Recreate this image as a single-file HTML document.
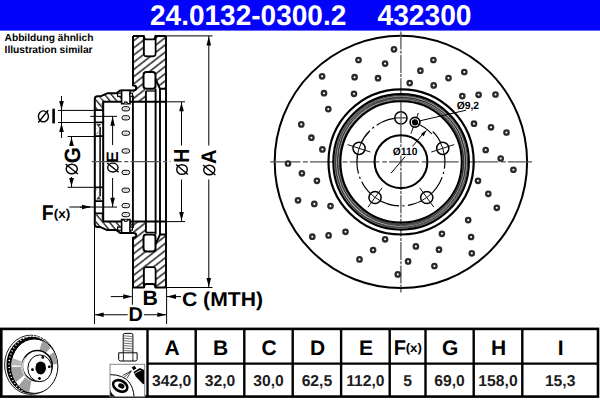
<!DOCTYPE html>
<html><head><meta charset="utf-8"><style>
html,body{margin:0;padding:0;background:#fff;}
body{width:600px;height:400px;overflow:hidden;position:relative;font-family:"Liberation Sans",sans-serif;}
svg{position:absolute;left:0;top:0;}
svg text{font-family:"Liberation Sans",sans-serif;text-rendering:geometricPrecision;}
</style></head><body>
<svg width="600" height="400" viewBox="0 0 600 400">
<defs>
<pattern id="h1" patternUnits="userSpaceOnUse" width="5.67" height="5.67" patternTransform="rotate(-38)">
<line x1="0" y1="1" x2="5.67" y2="1" stroke="#000" stroke-width="1.3"/></pattern>
<pattern id="h2" patternUnits="userSpaceOnUse" width="5.67" height="5.67" patternTransform="rotate(38)">
<line x1="0" y1="1" x2="5.67" y2="1" stroke="#000" stroke-width="1.3"/></pattern>
<pattern id="h3" patternUnits="userSpaceOnUse" width="5.1" height="5.1" patternTransform="rotate(50)">
<line x1="0" y1="1" x2="5.1" y2="1" stroke="#000" stroke-width="1.2"/></pattern>
<pattern id="h4" patternUnits="userSpaceOnUse" width="5.1" height="5.1" patternTransform="rotate(-50)">
<line x1="0" y1="1" x2="5.1" y2="1" stroke="#000" stroke-width="1.2"/></pattern>
</defs>
<rect x="0" y="0" width="600" height="30.6" fill="#0303fc"/>
<text transform="translate(150.02,24.75) scale(0.9877,1)" font-size="28.36" font-weight="bold" fill="#fff" >24.0132-0300.2</text>
<text transform="translate(377.48,24.90) scale(0.9870,1)" font-size="28.57" font-weight="bold" fill="#fff" >432300</text>
<text transform="translate(4.54,40.85) scale(0.9929,1)" font-size="10.28" font-weight="bold" fill="#000" >Abbildung ähnlich</text>
<text transform="translate(4.54,52.55) scale(0.9822,1)" font-size="10.41" font-weight="bold" fill="#000" >Illustration similar</text>
<circle cx="400.9" cy="161.9" r="126.2" fill="none" stroke="#000" stroke-width="2"/>
<line x1="400.9" y1="31.5" x2="400.9" y2="292.5" stroke="#555" stroke-width="1.3" stroke-dasharray="18,1.2,3,1.2"/>
<line x1="270.3" y1="161.9" x2="532" y2="161.9" stroke="#555" stroke-width="1.3" stroke-dasharray="30,2.6,5,2"/>
<circle cx="394" cy="49.3" r="2.2" fill="#fff" stroke="#2a2a2a" stroke-width="2.3"/>
<circle cx="358.5" cy="60" r="2.2" fill="#fff" stroke="#2a2a2a" stroke-width="2.3"/>
<circle cx="385.1" cy="63.6" r="2.2" fill="#fff" stroke="#2a2a2a" stroke-width="2.3"/>
<circle cx="322.1" cy="76.3" r="2.2" fill="#fff" stroke="#2a2a2a" stroke-width="2.3"/>
<circle cx="354.6" cy="77.2" r="2.2" fill="#fff" stroke="#2a2a2a" stroke-width="2.3"/>
<circle cx="378" cy="78.2" r="2.2" fill="#fff" stroke="#2a2a2a" stroke-width="2.3"/>
<circle cx="324" cy="93.2" r="2.2" fill="#fff" stroke="#2a2a2a" stroke-width="2.3"/>
<circle cx="354" cy="93.8" r="2.2" fill="#fff" stroke="#2a2a2a" stroke-width="2.3"/>
<circle cx="328.3" cy="109.1" r="2.2" fill="#fff" stroke="#2a2a2a" stroke-width="2.3"/>
<circle cx="301.3" cy="124.4" r="2.2" fill="#fff" stroke="#2a2a2a" stroke-width="2.3"/>
<circle cx="311.4" cy="137.7" r="2.2" fill="#fff" stroke="#2a2a2a" stroke-width="2.3"/>
<circle cx="322.4" cy="149.4" r="2.2" fill="#fff" stroke="#2a2a2a" stroke-width="2.3"/>
<circle cx="288" cy="163.5" r="2.2" fill="#fff" stroke="#2a2a2a" stroke-width="2.3"/>
<circle cx="433.4" cy="60" r="2.2" fill="#fff" stroke="#2a2a2a" stroke-width="2.3"/>
<circle cx="420.4" cy="70.7" r="2.2" fill="#fff" stroke="#2a2a2a" stroke-width="2.3"/>
<circle cx="464.3" cy="72" r="2.2" fill="#fff" stroke="#2a2a2a" stroke-width="2.3"/>
<circle cx="448.5" cy="78.1" r="2.2" fill="#fff" stroke="#2a2a2a" stroke-width="2.3"/>
<circle cx="409.7" cy="83.1" r="2.2" fill="#fff" stroke="#2a2a2a" stroke-width="2.3"/>
<circle cx="433.7" cy="85.4" r="2.2" fill="#fff" stroke="#2a2a2a" stroke-width="2.3"/>
<circle cx="462.3" cy="96.1" r="2.2" fill="#fff" stroke="#2a2a2a" stroke-width="2.3"/>
<circle cx="478.6" cy="94.8" r="2.2" fill="#fff" stroke="#2a2a2a" stroke-width="2.3"/>
<circle cx="495.5" cy="94.5" r="2.2" fill="#fff" stroke="#2a2a2a" stroke-width="2.3"/>
<circle cx="474" cy="123.7" r="2.2" fill="#fff" stroke="#2a2a2a" stroke-width="2.3"/>
<circle cx="491" cy="127.3" r="2.2" fill="#fff" stroke="#2a2a2a" stroke-width="2.3"/>
<circle cx="506.5" cy="132.5" r="2.2" fill="#fff" stroke="#2a2a2a" stroke-width="2.3"/>
<circle cx="485.7" cy="150" r="2.2" fill="#fff" stroke="#2a2a2a" stroke-width="2.3"/>
<circle cx="500.7" cy="158.5" r="2.2" fill="#fff" stroke="#2a2a2a" stroke-width="2.3"/>
<circle cx="301.9" cy="173.3" r="2.2" fill="#fff" stroke="#2a2a2a" stroke-width="2.3"/>
<circle cx="316.9" cy="180.8" r="2.2" fill="#fff" stroke="#2a2a2a" stroke-width="2.3"/>
<circle cx="298" cy="200.3" r="2.2" fill="#fff" stroke="#2a2a2a" stroke-width="2.3"/>
<circle cx="314.3" cy="203.9" r="2.2" fill="#fff" stroke="#2a2a2a" stroke-width="2.3"/>
<circle cx="330.5" cy="206.1" r="2.2" fill="#fff" stroke="#2a2a2a" stroke-width="2.3"/>
<circle cx="312.3" cy="236.7" r="2.2" fill="#fff" stroke="#2a2a2a" stroke-width="2.3"/>
<circle cx="328.6" cy="235.4" r="2.2" fill="#fff" stroke="#2a2a2a" stroke-width="2.3"/>
<circle cx="345.5" cy="231.8" r="2.2" fill="#fff" stroke="#2a2a2a" stroke-width="2.3"/>
<circle cx="385.1" cy="239.3" r="2.2" fill="#fff" stroke="#2a2a2a" stroke-width="2.3"/>
<circle cx="373.1" cy="250" r="2.2" fill="#fff" stroke="#2a2a2a" stroke-width="2.3"/>
<circle cx="359.5" cy="259.4" r="2.2" fill="#fff" stroke="#2a2a2a" stroke-width="2.3"/>
<circle cx="397.8" cy="274.4" r="2.2" fill="#fff" stroke="#2a2a2a" stroke-width="2.3"/>
<circle cx="513.4" cy="169.75" r="2.2" fill="#fff" stroke="#2a2a2a" stroke-width="2.3"/>
<circle cx="478" cy="180.8" r="2.2" fill="#fff" stroke="#2a2a2a" stroke-width="2.3"/>
<circle cx="488.3" cy="193.8" r="2.2" fill="#fff" stroke="#2a2a2a" stroke-width="2.3"/>
<circle cx="496.8" cy="207.8" r="2.2" fill="#fff" stroke="#2a2a2a" stroke-width="2.3"/>
<circle cx="468.2" cy="220.1" r="2.2" fill="#fff" stroke="#2a2a2a" stroke-width="2.3"/>
<circle cx="471.1" cy="237" r="2.2" fill="#fff" stroke="#2a2a2a" stroke-width="2.3"/>
<circle cx="471.8" cy="253.3" r="2.2" fill="#fff" stroke="#2a2a2a" stroke-width="2.3"/>
<circle cx="441.9" cy="233.8" r="2.2" fill="#fff" stroke="#2a2a2a" stroke-width="2.3"/>
<circle cx="439" cy="249.7" r="2.2" fill="#fff" stroke="#2a2a2a" stroke-width="2.3"/>
<circle cx="434.4" cy="266" r="2.2" fill="#fff" stroke="#2a2a2a" stroke-width="2.3"/>
<circle cx="415.9" cy="246.4" r="2.2" fill="#fff" stroke="#2a2a2a" stroke-width="2.3"/>
<circle cx="408.1" cy="261.4" r="2.2" fill="#fff" stroke="#2a2a2a" stroke-width="2.3"/>
<circle cx="401.1" cy="161.9" r="72.6" fill="none" stroke="#000" stroke-width="2.2"/>
<circle cx="401.1" cy="161.9" r="64.25" fill="none" stroke="#aaa" stroke-width="5.6"/>
<circle cx="401.40000000000003" cy="162.1" r="62.2" fill="none" stroke="#111" stroke-width="0.62"/>
<circle cx="400.8" cy="161.70000000000002" r="63.2" fill="none" stroke="#111" stroke-width="0.62"/>
<circle cx="401.45000000000005" cy="161.6" r="64.2" fill="none" stroke="#111" stroke-width="0.62"/>
<circle cx="400.75" cy="162.20000000000002" r="65.2" fill="none" stroke="#111" stroke-width="0.62"/>
<circle cx="401.3" cy="161.8" r="66.2" fill="none" stroke="#111" stroke-width="0.62"/>
<circle cx="401.1" cy="161.9" r="67.8" fill="none" stroke="#000" stroke-width="2.1"/>
<circle cx="401.1" cy="161.9" r="60.7" fill="none" stroke="#000" stroke-width="2.1"/>
<circle cx="401" cy="161.7" r="26.4" fill="none" stroke="#000" stroke-width="2.1"/>
<circle cx="400.9" cy="161.9" r="44" fill="none" stroke="#000" stroke-width="1.2" stroke-dasharray="46.49,3.3,2.2,3.3" stroke-dashoffset="39.75"/>
<path d="M402.05,117.92 A44,44 0 0 1 432.76,131.56" fill="none" stroke="#fff" stroke-width="2"/>
<circle cx="400.90" cy="117.90" r="6.1" fill="#fff" stroke="#000" stroke-width="1.5"/>
<line x1="394.90" y1="117.90" x2="406.90" y2="117.90" stroke="#111" stroke-width="1"/>
<line x1="401" y1="111.40" x2="401" y2="124.40" stroke="#555" stroke-width="1.3"/>
<circle cx="442.75" cy="148.30" r="6.1" fill="#fff" stroke="#000" stroke-width="1.5"/>
<line x1="431.33" y1="152.01" x2="454.16" y2="144.60" stroke="#111" stroke-width="1"/>
<path d="M440.10,141.92 A44,44 0 0 1 444.36,155.02" fill="none" stroke="#111" stroke-width="1"/>
<circle cx="426.76" cy="197.50" r="6.1" fill="#fff" stroke="#000" stroke-width="1.5"/>
<line x1="419.71" y1="187.79" x2="433.82" y2="207.20" stroke="#111" stroke-width="1"/>
<path d="M432.01,193.01 A44,44 0 0 1 420.88,201.10" fill="none" stroke="#111" stroke-width="1"/>
<circle cx="375.04" cy="197.50" r="6.1" fill="#fff" stroke="#000" stroke-width="1.5"/>
<line x1="382.09" y1="187.79" x2="367.98" y2="207.20" stroke="#111" stroke-width="1"/>
<path d="M380.92,201.10 A44,44 0 0 1 369.79,193.01" fill="none" stroke="#111" stroke-width="1"/>
<circle cx="359.05" cy="148.30" r="6.1" fill="#fff" stroke="#000" stroke-width="1.5"/>
<line x1="370.47" y1="152.01" x2="347.64" y2="144.60" stroke="#111" stroke-width="1"/>
<path d="M357.44,155.02 A44,44 0 0 1 361.70,141.92" fill="none" stroke="#111" stroke-width="1"/>
<line x1="410.96" y1="133.64" x2="418.34" y2="112.91" stroke="#111" stroke-width="1"/>
<circle cx="415" cy="122.3" r="4.9" fill="#fff" stroke="#000" stroke-width="1.6"/>
<circle cx="415" cy="122.3" r="3.1" fill="#000"/>
<line x1="420" y1="120.8" x2="466" y2="110.2" stroke="#000" stroke-width="1"/>
<text transform="translate(456.69,108.50) scale(0.9800,1)" font-size="10.57" font-weight="bold" fill="#000" >Ø9,2</text>
<line x1="391" y1="173.2" x2="405.2" y2="156.6" stroke="#000" stroke-width="1"/>
<line x1="412.5" y1="146.4" x2="424" y2="132.6" stroke="#000" stroke-width="1"/>
<path d="M426.8,129.7 L423.64,136.17 L421.02,134.01 Z" fill="#000"/>
<path d="M415.16,122.71 A41.7,41.7 0 0 1 431.89,134.00" fill="none" stroke="#000" stroke-width="1.1"/>
<rect x="392.5" y="147" width="25" height="8.6" fill="#fff"/>
<text transform="translate(392.84,155.00) scale(0.9785,1)" font-size="10.51" font-weight="bold" fill="#000" >Ø110</text>
<g><path d="M133,35.9 L143.9,35.9 L143.9,53.3 Q143.9,56.2 146.8,56.2 L152.6,56.2 Q155.5,56.2 155.5,53.3 L155.5,35.9 L166,35.9 L166,89 L160.5,89 L155.5,79 L155.5,75 Q155.5,72 152.5,72 L146.5,72 Q143.5,72 143.5,75 L143.5,88 L145.8,91 L145.8,101.8 L133,101.8 L133,35.9 Z" fill="url(#h1)" stroke="none"/>
<path d="M103.2,101.8 L103.2,99 L100.4,96.3 L107.2,93.3 L116.5,93.3 L120.1,90.5 L133,90.5 L133,101.8 Z" fill="url(#h3)" stroke="none"/>
<path d="M133,35.9 L143.9,35.9 Q143.9,39.5 146.5,39.5 L152.9,39.5 Q155.5,39.5 155.5,35.9 L166,35.9" fill="none" stroke="#000" stroke-width="2" stroke-linejoin="round"/>
<path d="M143.9,35.9 L143.9,53.3 Q143.9,56.2 146.8,56.2 L152.6,56.2 Q155.5,56.2 155.5,53.3 L155.5,35.9" fill="none" stroke="#000" stroke-width="2" stroke-linejoin="round"/>
<rect x="144.9" y="40.5" width="9.6" height="14.7" fill="#fff"/>
<path d="M143.5,75 Q143.5,72 146.5,72 L152.5,72 Q155.5,72 155.5,75 L155.5,86 Q155.5,88.8 152.7,88.8 L146.3,88.8 Q143.5,88.8 143.5,86 Z" fill="#fff" fill="none" stroke="#000" stroke-width="2" stroke-linejoin="round"/>
<path d="M145.9,91 L155.6,91" fill="none" stroke="#000" stroke-width="1.3"/>
<path d="M155.5,79 L160,88.8 L166,88.8" fill="none" stroke="#000" stroke-width="2" stroke-linejoin="round"/>
<path d="M95.8,99 Q96,97.3 97.8,97.3 L100.4,97.3 L103,99.5 L103,109.2 L95.8,109.2 Z" fill="url(#h3)"/>
<rect x="101.4" y="103" width="1.7" height="5.3" fill="#777"/>
<path d="M133,35.9 L133,85.6 C137.4,85.6 137.4,90.5 133,90.5 L120.1,90.5 L116.5,93.3 L107.2,93.3 L100.4,96.3 L97.6,96.3 Q94.8,96.3 94.8,99.1 L94.8,161.7" fill="none" stroke="#000" stroke-width="2" stroke-linejoin="round"/>
<path d="M103.2,161.7 L103.2,101.8 L166,101.8" fill="none" stroke="#000" stroke-width="2" stroke-linejoin="round"/>
<path d="M94.8,110.1 L103.2,110.1 M94.8,122.3 L103.2,122.3 M94.8,136.1 L103.2,136.1" fill="none" stroke="#000" stroke-width="1.7"/>
<path d="M100.1,127 L100.1,161.7" fill="none" stroke="#000" stroke-width="1.5"/>
<path d="M96.3,124 L101.2,124 L98.7,127.5 Z" fill="#000" opacity="0.75"/>
<path d="M96.4,128 L99.3,131.5 L96.4,134.5 Z" fill="url(#h1)"/>
<rect x="117.6" y="93.2" width="4" height="3.1" fill="#fff" stroke="#000" stroke-width="1.2"/>
<path d="M121.6,90.5 L130,90.5 L130,103.8 L121.6,103.8 Z" fill="#fff" stroke="#000" stroke-width="1.6"/>
<path d="M124.1,103.6 A1.7,1.7 0 0 1 127.5,103.6" fill="#fff" stroke="#000" stroke-width="1.2"/>
<rect x="130" y="93.2" width="2.4" height="3.1" fill="#fff" stroke="#000" stroke-width="1.1"/>
<rect x="122" y="106.7" width="7.6" height="4.2" rx="2.1" fill="#f2f2f2" stroke="#000" stroke-width="1.0"/>
<line x1="123.6" y1="109.0" x2="128" y2="109.0" stroke="#aaa" stroke-width="0.7"/>
<rect x="122" y="115.7" width="7.6" height="4.2" rx="2.1" fill="#f2f2f2" stroke="#000" stroke-width="1.0"/>
<line x1="123.6" y1="118.0" x2="128" y2="118.0" stroke="#aaa" stroke-width="0.7"/>
<rect x="122" y="131.1" width="7.6" height="4.2" rx="2.1" fill="#f2f2f2" stroke="#000" stroke-width="1.0"/>
<line x1="123.6" y1="133.39999999999998" x2="128" y2="133.39999999999998" stroke="#aaa" stroke-width="0.7"/>
<rect x="122" y="148.9" width="7.6" height="4.2" rx="2.1" fill="#f2f2f2" stroke="#000" stroke-width="1.0"/>
<line x1="123.6" y1="151.2" x2="128" y2="151.2" stroke="#aaa" stroke-width="0.7"/>
<path d="M132.9,95.5 L132.9,161.7 M145.9,91 L145.9,161.7 M155.6,88.8 L155.6,161.7 M160,88.8 L160,161.7 M166,35.9 L166,161.7" fill="none" stroke="#000" stroke-width="1.9"/></g>
<g transform="translate(0,323.4) scale(1,-1)"><path d="M133,35.9 L143.9,35.9 L143.9,53.3 Q143.9,56.2 146.8,56.2 L152.6,56.2 Q155.5,56.2 155.5,53.3 L155.5,35.9 L166,35.9 L166,89 L160.5,89 L155.5,79 L155.5,75 Q155.5,72 152.5,72 L146.5,72 Q143.5,72 143.5,75 L143.5,88 L145.8,91 L145.8,101.8 L133,101.8 L133,35.9 Z" fill="url(#h2)" stroke="none"/>
<path d="M103.2,101.8 L103.2,99 L100.4,96.3 L107.2,93.3 L116.5,93.3 L120.1,90.5 L133,90.5 L133,101.8 Z" fill="url(#h4)" stroke="none"/>
<path d="M133,35.9 L143.9,35.9 Q143.9,39.5 146.5,39.5 L152.9,39.5 Q155.5,39.5 155.5,35.9 L166,35.9" fill="none" stroke="#000" stroke-width="2" stroke-linejoin="round"/>
<path d="M143.9,35.9 L143.9,53.3 Q143.9,56.2 146.8,56.2 L152.6,56.2 Q155.5,56.2 155.5,53.3 L155.5,35.9" fill="none" stroke="#000" stroke-width="2" stroke-linejoin="round"/>
<rect x="144.9" y="40.5" width="9.6" height="14.7" fill="#fff"/>
<path d="M143.5,75 Q143.5,72 146.5,72 L152.5,72 Q155.5,72 155.5,75 L155.5,86 Q155.5,88.8 152.7,88.8 L146.3,88.8 Q143.5,88.8 143.5,86 Z" fill="#fff" fill="none" stroke="#000" stroke-width="2" stroke-linejoin="round"/>
<path d="M145.9,91 L155.6,91" fill="none" stroke="#000" stroke-width="1.3"/>
<path d="M155.5,79 L160,88.8 L166,88.8" fill="none" stroke="#000" stroke-width="2" stroke-linejoin="round"/>
<path d="M95.8,99 Q96,97.3 97.8,97.3 L100.4,97.3 L103,99.5 L103,109.2 L95.8,109.2 Z" fill="url(#h4)"/>
<rect x="101.4" y="103" width="1.7" height="5.3" fill="#777"/>
<path d="M133,35.9 L133,85.6 C137.4,85.6 137.4,90.5 133,90.5 L120.1,90.5 L116.5,93.3 L107.2,93.3 L100.4,96.3 L97.6,96.3 Q94.8,96.3 94.8,99.1 L94.8,161.7" fill="none" stroke="#000" stroke-width="2" stroke-linejoin="round"/>
<path d="M103.2,161.7 L103.2,101.8 L166,101.8" fill="none" stroke="#000" stroke-width="2" stroke-linejoin="round"/>
<path d="M94.8,110.1 L103.2,110.1 M94.8,122.3 L103.2,122.3 M94.8,136.1 L103.2,136.1" fill="none" stroke="#000" stroke-width="1.7"/>
<path d="M100.1,127 L100.1,161.7" fill="none" stroke="#000" stroke-width="1.5"/>
<path d="M96.3,124 L101.2,124 L98.7,127.5 Z" fill="#000" opacity="0.75"/>
<path d="M96.4,128 L99.3,131.5 L96.4,134.5 Z" fill="url(#h2)"/>
<rect x="117.6" y="93.2" width="4" height="3.1" fill="#fff" stroke="#000" stroke-width="1.2"/>
<path d="M121.6,90.5 L130,90.5 L130,103.8 L121.6,103.8 Z" fill="#fff" stroke="#000" stroke-width="1.6"/>
<path d="M124.1,103.6 A1.7,1.7 0 0 1 127.5,103.6" fill="#fff" stroke="#000" stroke-width="1.2"/>
<rect x="130" y="93.2" width="2.4" height="3.1" fill="#fff" stroke="#000" stroke-width="1.1"/>
<rect x="122" y="106.7" width="7.6" height="4.2" rx="2.1" fill="#f2f2f2" stroke="#000" stroke-width="1.0"/>
<line x1="123.6" y1="109.0" x2="128" y2="109.0" stroke="#aaa" stroke-width="0.7"/>
<rect x="122" y="115.7" width="7.6" height="4.2" rx="2.1" fill="#f2f2f2" stroke="#000" stroke-width="1.0"/>
<line x1="123.6" y1="118.0" x2="128" y2="118.0" stroke="#aaa" stroke-width="0.7"/>
<rect x="122" y="131.1" width="7.6" height="4.2" rx="2.1" fill="#f2f2f2" stroke="#000" stroke-width="1.0"/>
<line x1="123.6" y1="133.39999999999998" x2="128" y2="133.39999999999998" stroke="#aaa" stroke-width="0.7"/>
<rect x="122" y="148.9" width="7.6" height="4.2" rx="2.1" fill="#f2f2f2" stroke="#000" stroke-width="1.0"/>
<line x1="123.6" y1="151.2" x2="128" y2="151.2" stroke="#aaa" stroke-width="0.7"/>
<path d="M132.9,95.5 L132.9,161.7 M145.9,91 L145.9,161.7 M155.6,88.8 L155.6,161.7 M160,88.8 L160,161.7 M166,35.9 L166,161.7" fill="none" stroke="#000" stroke-width="1.9"/></g>
<line x1="166" y1="35.9" x2="212.5" y2="35.9" stroke="#000" stroke-width="1" fill="none"/>
<line x1="166" y1="287.5" x2="212.5" y2="287.5" stroke="#000" stroke-width="1" fill="none"/>
<line x1="208.8" y1="36" x2="208.8" y2="145.5" stroke="#000" stroke-width="1" fill="none"/>
<line x1="208.8" y1="179.5" x2="208.8" y2="287.4" stroke="#000" stroke-width="1" fill="none"/>
<path d="M208.8,36.4 L211.10,45.40 L206.50,45.40 Z" fill="#000"/>
<path d="M208.8,287.0 L206.50,278.00 L211.10,278.00 Z" fill="#000"/>
<line x1="166" y1="101.8" x2="185" y2="101.8" stroke="#000" stroke-width="1" fill="none"/>
<line x1="166" y1="221.59999999999997" x2="185" y2="221.59999999999997" stroke="#000" stroke-width="1" fill="none"/>
<line x1="181.5" y1="102" x2="181.5" y2="145.5" stroke="#000" stroke-width="1" fill="none"/>
<line x1="181.5" y1="179.5" x2="181.5" y2="221.39999999999998" stroke="#000" stroke-width="1" fill="none"/>
<path d="M181.5,102.3 L183.80,111.30 L179.20,111.30 Z" fill="#000"/>
<path d="M181.5,221.09999999999997 L179.20,212.10 L183.80,212.10 Z" fill="#000"/>
<line x1="90.3" y1="116.35" x2="117" y2="116.35" stroke="#000" stroke-width="1" fill="none"/>
<line x1="80" y1="207.04999999999998" x2="117" y2="207.04999999999998" stroke="#000" stroke-width="1" fill="none"/>
<line x1="112.6" y1="116.5" x2="112.6" y2="145" stroke="#000" stroke-width="1" fill="none"/>
<line x1="112.6" y1="178" x2="112.6" y2="206.89999999999998" stroke="#000" stroke-width="1" fill="none"/>
<path d="M112.6,116.7 L114.90,125.70 L110.30,125.70 Z" fill="#000"/>
<path d="M112.6,206.7 L110.30,197.70 L114.90,197.70 Z" fill="#000"/>
<line x1="58" y1="110.4" x2="94" y2="110.4" stroke="#000" stroke-width="1" fill="none"/>
<line x1="58" y1="122.5" x2="94" y2="122.5" stroke="#000" stroke-width="1" fill="none"/>
<line x1="61.5" y1="96" x2="61.5" y2="138" stroke="#000" stroke-width="1" fill="none"/>
<path d="M61.5,110 L59.20,101.00 L63.80,101.00 Z" fill="#000"/>
<path d="M61.5,122.9 L63.80,131.90 L59.20,131.90 Z" fill="#000"/>
<line x1="67.6" y1="136.5" x2="94" y2="136.5" stroke="#000" stroke-width="1" fill="none"/>
<line x1="67.6" y1="187.3" x2="94" y2="187.3" stroke="#000" stroke-width="1" fill="none"/>
<line x1="71.5" y1="137" x2="71.5" y2="146" stroke="#000" stroke-width="1" fill="none"/>
<line x1="71.5" y1="177" x2="71.5" y2="187" stroke="#000" stroke-width="1" fill="none"/>
<path d="M71.5,137 L73.80,146.00 L69.20,146.00 Z" fill="#000"/>
<path d="M71.5,187 L69.20,178.00 L73.80,178.00 Z" fill="#000"/>
<line x1="69.4" y1="207" x2="90" y2="207" stroke="#000" stroke-width="1" fill="none"/>
<path d="M91,207 L82.00,209.30 L82.00,204.70 Z" fill="#000"/>
<line x1="94.5" y1="226" x2="94.5" y2="324" stroke="#000" stroke-width="1" fill="none"/>
<line x1="166.6" y1="287" x2="166.6" y2="324" stroke="#000" stroke-width="1" fill="none"/>
<line x1="132.4" y1="287" x2="132.4" y2="304.7" stroke="#000" stroke-width="1" fill="none"/>
<line x1="110.8" y1="296.6" x2="131.5" y2="296.6" stroke="#000" stroke-width="1" fill="none"/>
<path d="M132.2,296.6 L123.20,298.90 L123.20,294.30 Z" fill="#000"/>
<line x1="167" y1="296.6" x2="181" y2="296.6" stroke="#000" stroke-width="1" fill="none"/>
<path d="M167,296.6 L176.00,294.30 L176.00,298.90 Z" fill="#000"/>
<line x1="94.5" y1="314.75" x2="127.7" y2="314.75" stroke="#000" stroke-width="1" fill="none"/>
<line x1="143.9" y1="314.75" x2="166.6" y2="314.75" stroke="#000" stroke-width="1" fill="none"/>
<path d="M94.7,314.75 L103.70,312.45 L103.70,317.05 Z" fill="#000"/>
<path d="M166.4,314.75 L157.40,317.05 L157.40,312.45 Z" fill="#000"/>
<line x1="91.7" y1="161.7" x2="170.5" y2="161.7" stroke="#555" stroke-width="1.3" stroke-dasharray="30,2.5,4,2.5"/>
<ellipse cx="43.4" cy="116.4" rx="5.0" ry="5.5" fill="none" stroke="#000" stroke-width="1.4"/><line x1="38.20" y1="122.50" x2="48.20" y2="110.30" stroke="#000" stroke-width="1.4"/>
<rect x="52.3" y="108.7" width="2.6" height="14.7" fill="#000"/>
<text transform="translate(79.50,163.33) rotate(-90) scale(0.9367,1)" font-size="22.14" font-weight="bold" fill="#000" >G</text>
<ellipse cx="71.75" cy="169" rx="5.55" ry="4.8" fill="none" stroke="#000" stroke-width="1.4"/><line x1="65.60" y1="164.00" x2="77.90" y2="174.00" stroke="#000" stroke-width="1.4"/>
<text transform="translate(118.40,162.72) rotate(-90) scale(1.0391,1)" font-size="16.52" font-weight="bold" fill="#000" >E</text>
<ellipse cx="112.85" cy="167.6" rx="5.15" ry="4.45" fill="none" stroke="#000" stroke-width="1.4"/><line x1="107.10" y1="162.95" x2="118.60" y2="172.25" stroke="#000" stroke-width="1.4"/>
<text transform="translate(189.00,162.77) rotate(-90) scale(0.8966,1)" font-size="21.74" font-weight="bold" fill="#000" >H</text>
<ellipse cx="182" cy="169.5" rx="5.3" ry="4.8" fill="none" stroke="#000" stroke-width="1.4"/><line x1="176.10" y1="164.50" x2="187.90" y2="174.50" stroke="#000" stroke-width="1.4"/>
<text transform="translate(216.00,164.00) rotate(-90) scale(0.9588,1)" font-size="21.01" font-weight="bold" fill="#000" >A</text>
<ellipse cx="209.25" cy="170" rx="5.55" ry="4.8" fill="none" stroke="#000" stroke-width="1.4"/><line x1="203.10" y1="165.00" x2="215.40" y2="175.00" stroke="#000" stroke-width="1.4"/>
<text transform="translate(41.74,220.40) scale(0.9112,1)" font-size="21.30" font-weight="bold" fill="#000" >F</text>
<text transform="translate(53.72,217.70) scale(1.0602,1)" font-size="12.83" font-weight="bold" fill="#000" >(x)</text>
<text transform="translate(142.51,305.10) scale(1.0212,1)" font-size="20.87" font-weight="bold" fill="#000" >B</text>
<text transform="translate(128.61,321.30) scale(0.9847,1)" font-size="20.14" font-weight="bold" fill="#000" >D</text>
<text transform="translate(181.95,306.20) scale(1.0650,1)" font-size="19.86" font-weight="bold" fill="#000" >C (MTH)</text>
<rect x="1.3" y="328.9" width="596.7" height="67.7" fill="none" stroke="#000" stroke-width="2.6"/>
<line x1="147.5" y1="363.6" x2="598" y2="363.6" stroke="#000" stroke-width="2.4"/>
<line x1="147.5" y1="328.9" x2="147.5" y2="396.6" stroke="#000" stroke-width="2.4"/>
<line x1="195.7" y1="328.9" x2="195.7" y2="396.6" stroke="#000" stroke-width="2.4"/>
<line x1="244.3" y1="328.9" x2="244.3" y2="396.6" stroke="#000" stroke-width="2.4"/>
<line x1="292.7" y1="328.9" x2="292.7" y2="396.6" stroke="#000" stroke-width="2.4"/>
<line x1="341.1" y1="328.9" x2="341.1" y2="396.6" stroke="#000" stroke-width="2.4"/>
<line x1="389.7" y1="328.9" x2="389.7" y2="396.6" stroke="#000" stroke-width="2.4"/>
<line x1="425.5" y1="328.9" x2="425.5" y2="396.6" stroke="#000" stroke-width="2.4"/>
<line x1="473.7" y1="328.9" x2="473.7" y2="396.6" stroke="#000" stroke-width="2.4"/>
<line x1="522.3" y1="328.9" x2="522.3" y2="396.6" stroke="#000" stroke-width="2.4"/>
<text x="172.20" y="354.6" font-size="21" font-weight="bold" text-anchor="middle">A</text>
<text x="171.60" y="385.7" font-size="15.7" font-weight="bold" text-anchor="middle" fill="#1c1c1c">342,0</text>
<text x="220.60" y="354.6" font-size="21" font-weight="bold" text-anchor="middle">B</text>
<text x="220.00" y="385.7" font-size="15.7" font-weight="bold" text-anchor="middle" fill="#1c1c1c">32,0</text>
<text x="269.10" y="354.6" font-size="21" font-weight="bold" text-anchor="middle">C</text>
<text x="268.50" y="385.7" font-size="15.7" font-weight="bold" text-anchor="middle" fill="#1c1c1c">30,0</text>
<text x="317.50" y="354.6" font-size="21" font-weight="bold" text-anchor="middle">D</text>
<text x="316.90" y="385.7" font-size="15.7" font-weight="bold" text-anchor="middle" fill="#1c1c1c">62,5</text>
<text x="366.00" y="354.6" font-size="21" font-weight="bold" text-anchor="middle">E</text>
<text x="365.40" y="385.7" font-size="15.7" font-weight="bold" text-anchor="middle" fill="#1c1c1c">112,0</text>
<text transform="translate(393.70,354.75) scale(0.9356,1)" font-size="21.38" font-weight="bold" fill="#000" >F</text>
<text transform="translate(405.63,351.60) scale(1.0623,1)" font-size="12.55" font-weight="bold" fill="#000" >(x)</text>
<text x="407.60" y="385.7" font-size="15.7" font-weight="bold" text-anchor="middle" fill="#1c1c1c">5</text>
<text x="450.20" y="354.6" font-size="21" font-weight="bold" text-anchor="middle">G</text>
<text x="449.60" y="385.7" font-size="15.7" font-weight="bold" text-anchor="middle" fill="#1c1c1c">69,0</text>
<text x="498.60" y="354.6" font-size="21" font-weight="bold" text-anchor="middle">H</text>
<text x="498.00" y="385.7" font-size="15.7" font-weight="bold" text-anchor="middle" fill="#1c1c1c">158,0</text>
<text x="560.75" y="354.6" font-size="21" font-weight="bold" text-anchor="middle">I</text>
<text x="560.15" y="385.7" font-size="15.7" font-weight="bold" text-anchor="middle" fill="#1c1c1c">15,3</text>
<ellipse cx="30.8" cy="364.8" rx="26.2" ry="29.6" fill="#fff" stroke="#000" stroke-width="0.9"/>
<ellipse cx="31.3" cy="365.1" rx="24.9" ry="28.5" fill="#000"/>
<path d="M44,338.5 A24.2,28 0 0 0 24,391.5" fill="none" stroke="#fff" stroke-width="1.5" stroke-dasharray="1.1,2.3"/>
<ellipse cx="34.4" cy="366.2" rx="23.5" ry="27.2" fill="#fff" stroke="#000" stroke-width="1"/>
<polygon points="42.3,341.0 43.9,341.8 45.4,342.6 46.8,343.6 48.2,344.7 49.5,345.9 50.8,347.3 43.7,355.4 43.0,354.7 42.3,354.0 41.5,353.4 40.6,352.8 39.8,352.3 38.9,351.9" fill="#a0a0a0"/>
<polygon points="54.0,352.0 54.9,353.8 55.7,355.7 56.4,357.7 56.9,359.7 57.2,361.8 57.5,363.9 47.5,364.9 47.4,363.7 47.2,362.5 46.9,361.4 46.5,360.2 46.1,359.2 45.6,358.1" fill="#a0a0a0"/>
<polygon points="11.3,365.3 11.3,364.0 11.4,362.8 11.6,361.5 11.8,360.3 12.1,359.1 12.4,357.9 21.9,361.5 21.7,362.2 21.6,362.9 21.4,363.6 21.3,364.3 21.3,365.0 21.2,365.7" fill="#b8b8b8"/>
<polygon points="15.9,382.3 14.6,380.1 13.5,377.7 12.6,375.1 11.9,372.5 11.5,369.9 11.3,367.1 21.2,366.7 21.4,368.3 21.6,369.8 22.0,371.3 22.5,372.7 23.1,374.1 23.9,375.4" fill="#a0a0a0"/>
<polygon points="29.2,392.3 27.2,391.7 25.4,390.9 23.5,389.9 21.8,388.7 20.1,387.3 18.6,385.8 25.4,377.3 26.3,378.2 27.2,379.0 28.2,379.6 29.3,380.2 30.3,380.7 31.4,381.0" fill="#a0a0a0"/>
<ellipse cx="37.3" cy="365.8" rx="14.9" ry="15.2" fill="#fff" stroke="#000" stroke-width="1.5"/>
<path d="M27.6,357 A12,13.5 0 0 0 31,380 L27,378.5 A14.5,15 0 0 1 24.5,358 Z" fill="#cfcfcf"/>
<ellipse cx="39.85" cy="368.3" rx="12" ry="13.4" fill="#fff" stroke="#000" stroke-width="1"/>
<ellipse cx="40.7" cy="367.9" rx="5.3" ry="6.5" fill="#000"/>
<circle cx="42.8" cy="357.4" r="1.4" fill="#000"/>
<circle cx="49.3" cy="366.8" r="1.4" fill="#000"/>
<circle cx="39.5" cy="378.5" r="1.4" fill="#000"/>
<circle cx="32.5" cy="369.7" r="1.4" fill="#000"/>
<path d="M123.2,352.8 L123.2,335 Q123.2,333.4 124.8,333.4 L131.3,333.4 Q132.9,333.4 132.9,335 L132.9,352.8" fill="#fff" stroke="#000" stroke-width="1"/>
<line x1="123.8" y1="335.8" x2="132.3" y2="336.5" stroke="#707070" stroke-width="1"/>
<line x1="123.8" y1="338.2" x2="132.3" y2="338.9" stroke="#707070" stroke-width="1"/>
<line x1="123.8" y1="340.7" x2="132.3" y2="341.4" stroke="#707070" stroke-width="1"/>
<line x1="123.8" y1="343.2" x2="132.3" y2="343.9" stroke="#707070" stroke-width="1"/>
<line x1="123.8" y1="345.6" x2="132.3" y2="346.3" stroke="#707070" stroke-width="1"/>
<line x1="123.8" y1="348.1" x2="132.3" y2="348.8" stroke="#707070" stroke-width="1"/>
<line x1="123.8" y1="350.5" x2="132.3" y2="351.2" stroke="#707070" stroke-width="1"/>
<path d="M118.7,352.8 L137.1,352.8 L137.1,359.6 L135.9,361 L119.9,361 L118.7,359.6 Z" fill="#fff" stroke="#000" stroke-width="1"/>
<line x1="123.4" y1="352.8" x2="123.4" y2="361" stroke="#000" stroke-width="0.8"/><line x1="132.9" y1="352.8" x2="132.9" y2="361" stroke="#000" stroke-width="0.8"/>
<rect x="110" y="364.3" width="34.7" height="32.4" fill="#fff" stroke="#888" stroke-width="1"/>
<path d="M110.3,374.6 Q123,374.8 129,382 Q133.6,388 134,396.5" fill="none" stroke="#000" stroke-width="1"/>
<path d="M110.3,389.5 Q111.5,394.5 115.5,396.5 L110.3,396.5 Z" fill="#000"/>
<ellipse cx="120.2" cy="385.9" rx="7.6" ry="5.2" transform="rotate(27,120.2,385.9)" fill="#fff" stroke="#000" stroke-width="2.6"/>
<ellipse cx="121.3" cy="385.9" rx="3.3" ry="2.4" transform="rotate(27,121.3,385.9)" fill="#000"/>
<path d="M133.5,371.9 L139.8,367.9 L144.2,370 L144.2,384.3 L142.9,384.1 L135.7,376.4 Z" fill="#000"/>
<path d="M134.8,373.6 Q137.5,371 140.9,370.4" fill="none" stroke="#fff" stroke-width="0.9"/>
<path d="M131.7,367.6 L134.6,365.8 L136.4,368.5 L133.5,370.3 Z" fill="#000"/>
<path d="M131.4,370.8 L122.7,375.5 M131.4,370.8 L124,377.3 M131.4,370.8 L126.7,378.7" stroke="#000" stroke-width="0.7" fill="none"/>
</svg>
</body></html>
